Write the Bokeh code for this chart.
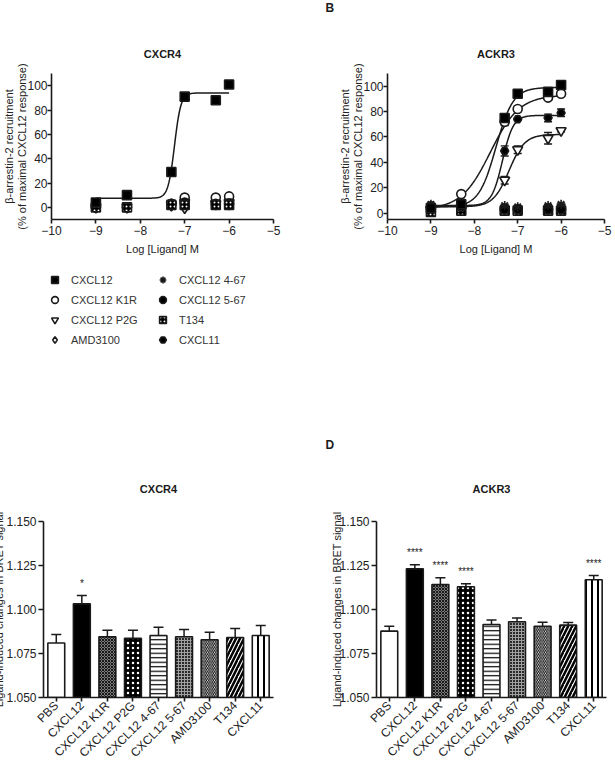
import numpy as np
from math import pi
from bokeh.plotting import figure
from bokeh.models import (ColumnDataSource, FixedTicker, Legend, LegendItem, Whisker,
                          TeeHead, Title, FactorRange, Range1d, PrintfTickFormatter)
from bokeh.layouts import row, column
from bokeh.embed import file_html
from bokeh.resources import INLINE
from bokeh.core.properties import value

FONT = "Liberation Sans"
INK = "#1a1a1a"
TXT = "#222222"

# ---------------- concentration-response data ----------------
log_conc = [-9.0, -8.3, -7.3, -7.0, -6.3, -6.0]

ligands = ["CXCL12", "CXCL12 K1R", "CXCL12 P2G", "AMD3100",
           "CXCL12 4-67", "CXCL12 5-67", "T134", "CXCL11"]

# CXCR4, beta-arrestin-2 recruitment (% of maximal CXCL12 response)
cxcr4_cxcl12 = [4, 10, 29, 91, 88, 101]
cxcr4_k1r = [0, 0, 3, 8, 8, 9]
cxcr4_p2g = [0, 0, 2, 4, 3, 4]
cxcr4_amd3100 = [0, 0, 1, -1, 2, 2]
cxcr4_cxcl12_467 = [0, 0, 3, 3, 3, 3]
cxcr4_cxcl12_567 = [0, 0, 3, 4, 3, 3]
cxcr4_t134 = [0, 0, 2, 2, 2, 2]
cxcr4_cxcl11 = [0, 0, 3, 3, 3, 4]

# ACKR3, beta-arrestin-2 recruitment (% of maximal CXCL12 response) with SEM
ackr3_cxcl12 = [4, 7, 75, 94, 95.5, 101]
ackr3_cxcl12_sem = [1, 2, 3, 2, 2, 1]
ackr3_k1r = [5, 15, 72, 82, 91, 94]
ackr3_k1r_sem = [1, 1, 3, 2, 2, 2]
ackr3_p2g = [3, 5, 26, 50, 59, 65]
ackr3_p2g_sem = [1, 1, 3, 3, 4.5, 1]
ackr3_amd3100 = [2, 3, 2, 3, 3, 3]
ackr3_amd3100_sem = [1, 1, 1, 1, 1, 1]
ackr3_cxcl12_467 = [7, 9, 6, 5, 6, 7]
ackr3_cxcl12_467_sem = [1, 1, 1, 1, 1, 1]
ackr3_cxcl12_567 = [4, 5, 3, 3, 3, 3]
ackr3_cxcl12_567_sem = [1, 1, 1, 1, 1, 1]
ackr3_t134 = [1, 2, 2, 2, 2, 2]
ackr3_t134_sem = [1, 1, 1, 1, 1, 1]
ackr3_cxcl11 = [6, 5, 49, 74, 75, 79]
ackr3_cxcl11_sem = [1, 1, 4, 1, 3, 3]

# four-parameter logistic fits: bottom, top, logEC50, Hill slope
cxcr4_fits = {"CXCL12": [7.5, 94.0, -7.23, 6.0]}
ackr3_fits = {"CXCL12": [5.0, 99.0, -7.50, 2.2],
              "CXCL12 K1R": [3.0, 93.0, -7.63, 1.3],
              "CXCL11": [6.0, 77.0, -7.35, 3.5],
              "CXCL12 P2G": [5.0, 62.0, -7.20, 2.4]}

# ---------------- BRET bar data ----------------
bar_labels = ["PBS", "CXCL12", "CXCL12 K1R", "CXCL12 P2G", "CXCL12 4-67",
              "CXCL12 5-67", "AMD3100", "T134", "CXCL11"]
cxcr4_bret = [1.0810, 1.1032, 1.0845, 1.0837, 1.0852, 1.0845, 1.0828, 1.0841, 1.0852]
cxcr4_bret_sem = [0.0048, 0.0048, 0.0037, 0.0045, 0.0047, 0.0041, 0.0043, 0.0051, 0.0057]
cxcr4_sig = ["", "*", "", "", "", "", "", "", ""]
ackr3_bret = [1.0877, 1.1231, 1.1142, 1.1129, 1.0915, 1.0930, 1.0905, 1.0911, 1.1169]
ackr3_bret_sem = [0.0028, 0.0023, 0.0038, 0.0017, 0.0026, 0.0021, 0.0023, 0.0015, 0.0024]
ackr3_sig = ["", "****", "****", "****", "", "", "", "", "****"]

# bar fill styles
bar_fill = ["white", "black", "#7a7a7a", "black", "white", "#2a2a2a", "white", "white", "white"]
bar_hatch = [" ", " ", "diagonal_cross", "dot", "horizontal_line", "cross",
             "left_diagonal_line", "right_diagonal_line", "vertical_line"]
bar_hatch_color = ["black", "black", "black", "white", "black", "#a0a0a0", "black", "black", "black"]
bar_hatch_scale = [8, 8, 3, 5, 4.5, 3, 3.5, 8, 6]
bar_hatch_weight = [1, 1, 0.8, 2.5, 1.2, 1, 1, 2.5, 2]

# marker style per ligand
marker_style = {
    "CXCL12": dict(marker="square", fill_color="black", size=9),
    "CXCL12 K1R": dict(marker="circle", fill_color="white", size=9),
    "CXCL12 P2G": dict(marker="inverted_triangle", fill_color="white", size=10),
    "AMD3100": dict(marker="diamond", fill_color="white", size=10),
    "CXCL12 4-67": dict(marker="asterisk", fill_color="black", size=9),
    "CXCL12 5-67": dict(marker="circle", fill_color="black", size=9),
    "T134": dict(marker="square", fill_color="black", size=9,
                 hatch_pattern="dot", hatch_color="white", hatch_scale=4),
    "CXCL11": dict(marker="hex", fill_color="black", size=8),
}


def four_pl(x, bottom, top, logec50, hill):
    return bottom + (top - bottom) / (1.0 + 10.0 ** ((logec50 - x) * hill))


def clean(p):
    p.outline_line_color = None
    p.background_fill_color = "white"
    p.border_fill_color = "white"
    # each panel keeps its own plot area; no alignment with neighbours
    p.frame_align = False


def style_title(t, size="11px", align="center"):
    t.text_font = FONT
    t.text_font_size = size
    t.text_font_style = "bold"
    t.text_color = INK
    t.align = align


def style_axes(p, tick_size="12px"):
    clean(p)
    p.xgrid.visible = False
    p.ygrid.visible = False
    style_title(p.title)
    for ax in p.axis:
        ax.axis_line_width = 1.6
        ax.axis_line_color = INK
        ax.major_tick_line_width = 1.6
        ax.major_tick_line_color = INK
        ax.major_tick_out = 4
        ax.major_tick_in = 0
        ax.minor_tick_out = 0
        ax.minor_tick_in = 0
        ax.major_label_text_font = FONT
        ax.major_label_text_font_size = tick_size
        ax.major_label_text_color = TXT
        ax.major_label_standoff = 2
        ax.axis_label_text_font = FONT
        ax.axis_label_text_font_size = "11px"
        ax.axis_label_text_font_style = "normal"
        ax.axis_label_text_color = TXT
        ax.axis_label_standoff = 3


def dose_figure(title, y_start, left, right, top, bottom, width, height):
    p = figure(width=width, height=height, title=title, output_backend="svg",
               toolbar_location=None, x_range=Range1d(-10, -5),
               y_range=Range1d(y_start, 110),
               min_border_left=left, min_border_right=right,
               min_border_top=top, min_border_bottom=bottom)
    style_axes(p)
    p.xaxis.ticker = FixedTicker(ticks=[-10, -9, -8, -7, -6, -5])
    p.yaxis.ticker = FixedTicker(ticks=[0, 20, 40, 60, 80, 100])
    p.xaxis.axis_label = "Log [Ligand] M"
    p.xaxis.axis_label_standoff = 5
    p.yaxis.axis_label = "\u03b2-arrestin-2 recruitment\n(% of maximal CXCL12 response)"
    p.yaxis.axis_label_text_line_height = 1.1
    p.yaxis.major_label_standoff = 0
    p.yaxis.axis_label_standoff = -4
    p.title.standoff = 28
    return p


curve_x = np.linspace(log_conc[0], log_conc[-1], 200)

# ---------------- panel: CXCR4 concentration-response ----------------
pA = dose_figure("CXCR4", -10, 51, 27, 73, 41, 300, 260)
for name, (b, t, ec, h) in cxcr4_fits.items():
    pA.line(curve_x, four_pl(curve_x, b, t, ec, h), line_color=INK, line_width=1.5)

cxcr4_series = {"CXCL12": cxcr4_cxcl12, "CXCL12 K1R": cxcr4_k1r, "CXCL12 P2G": cxcr4_p2g,
                "AMD3100": cxcr4_amd3100, "CXCL12 4-67": cxcr4_cxcl12_467,
                "CXCL12 5-67": cxcr4_cxcl12_567, "T134": cxcr4_t134, "CXCL11": cxcr4_cxcl11}
draw_order_a = ["CXCL12 K1R", "AMD3100", "CXCL12 P2G", "CXCL12 5-67", "CXCL11",
                "CXCL12 4-67", "T134", "CXCL12"]
for name in draw_order_a:
    pA.scatter(log_conc, cxcr4_series[name], line_color=INK, line_width=1.6,
               **marker_style[name])

# ---------------- symbol key shared by both concentration-response panels ----------------
# the key's own plot area shows none of the series (its x range lies outside them)
pKey = figure(width=300, height=120, output_backend="svg", toolbar_location=None,
              x_axis_type=None, y_axis_type=None, x_range=Range1d(0, 1),
              y_range=Range1d(0, 1), min_border=0)
clean(pKey)
key_items = []
for name in ligands:
    r = pKey.scatter(log_conc, cxcr4_series[name], line_color=INK, line_width=1.6,
                     **marker_style[name])
    key_items.append(LegendItem(label=name, renderers=[r]))
pKey.add_layout(Legend(items=key_items, location=(46, 32), orientation="vertical", nrows=4,
                       glyph_width=17, glyph_height=17, label_height=17, label_width=80,
                       label_standoff=8, spacing=3, padding=0, margin=0,
                       border_line_alpha=0, background_fill_alpha=0,
                       label_text_font=FONT, label_text_font_size="11px",
                       label_text_color="#333333"), "center")

# ---------------- panel letter B ----------------
pBletter = figure(width=315, height=20, output_backend="svg", toolbar_location=None,
                  x_axis_type=None, y_axis_type=None, x_range=Range1d(0, 1),
                  y_range=Range1d(0, 1), min_border=0, title="B")
clean(pBletter)
style_title(pBletter.title, size="12px", align="left")
pBletter.title.vertical_align = "top"
pBletter.title.standoff = 0
pBletter.title.offset = 25

# ---------------- panel: ACKR3 concentration-response ----------------
pB = dose_figure("ACKR3", -5, 87, 11, 53, 161, 315, 360)
ackr3_series = {"CXCL12": (ackr3_cxcl12, ackr3_cxcl12_sem),
                "CXCL12 K1R": (ackr3_k1r, ackr3_k1r_sem),
                "CXCL12 P2G": (ackr3_p2g, ackr3_p2g_sem),
                "AMD3100": (ackr3_amd3100, ackr3_amd3100_sem),
                "CXCL12 4-67": (ackr3_cxcl12_467, ackr3_cxcl12_467_sem),
                "CXCL12 5-67": (ackr3_cxcl12_567, ackr3_cxcl12_567_sem),
                "T134": (ackr3_t134, ackr3_t134_sem),
                "CXCL11": (ackr3_cxcl11, ackr3_cxcl11_sem)}
for name, (b, t, ec, h) in ackr3_fits.items():
    pB.line(curve_x, four_pl(curve_x, b, t, ec, h), line_color=INK, line_width=1.5)
draw_order_b = ["AMD3100", "CXCL12 P2G", "T134", "CXCL12 5-67", "CXCL11", "CXCL12 4-67",
                "CXCL12 K1R", "CXCL12"]
for name in draw_order_b:
    vals, sem = ackr3_series[name]
    src = ColumnDataSource(dict(x=log_conc, y=vals,
                                lo=[v - s for v, s in zip(vals, sem)],
                                hi=[v + s for v, s in zip(vals, sem)]))
    pB.add_layout(Whisker(source=src, base="x", lower="lo", upper="hi",
                          line_color=INK, line_width=1.4,
                          lower_head=TeeHead(size=8, line_width=1.4, line_color=INK),
                          upper_head=TeeHead(size=8, line_width=1.4, line_color=INK)))
    pB.scatter("x", "y", source=src, line_color=INK, line_width=1.6, **marker_style[name])


# ---------------- BRET bar panels ----------------
def bar_figure(title, vals, sem, sig, left, right, width, label_standoff):
    p = figure(width=width, height=387, title=title, output_backend="svg",
               toolbar_location=None, x_range=FactorRange(*bar_labels),
               y_range=Range1d(1.05, 1.15),
               min_border_left=left, min_border_right=right,
               min_border_top=141, min_border_bottom=69)
    style_axes(p)
    p.title.standoff = 53
    p.yaxis.ticker = FixedTicker(ticks=[1.05, 1.075, 1.1, 1.125, 1.15])
    p.yaxis.formatter = PrintfTickFormatter(format="%.3f")
    p.yaxis.major_tick_out = 5
    p.yaxis.major_label_standoff = 2
    p.xaxis.major_label_orientation = pi / 4
    p.xaxis.major_label_text_font_size = "12px"
    p.yaxis.axis_label = "Ligand-induced changes in BRET signal"
    p.yaxis.axis_label_standoff = label_standoff
    src = ColumnDataSource(dict(
        label=bar_labels, top=vals,
        hi=[v + s for v, s in zip(vals, sem)],
        fill=bar_fill, hatch=bar_hatch, hcol=bar_hatch_color,
        hscale=bar_hatch_scale, hweight=bar_hatch_weight, sig=sig))
    p.add_layout(Whisker(source=src, base="label", lower="top", upper="hi",
                         line_color=INK, line_width=1.5, lower_head=None,
                         upper_head=TeeHead(size=10, line_width=1.5, line_color=INK)))
    p.vbar(x="label", top="top", bottom=1.05, width=0.66, source=src,
           fill_color="fill", line_color=INK, line_width=1.6,
           hatch_pattern="hatch", hatch_color="hcol", hatch_scale="hscale",
           hatch_weight="hweight")
    p.text(x="label", y="hi", text="sig", source=src, text_font=value(FONT),
           text_font_size="10px", text_align="center", text_baseline="alphabetic",
           y_offset=-12, text_color=INK)
    return p


# the left edge of this panel runs past the page, so its axis label is cut
pC = bar_figure("CXCR4", cxcr4_bret, cxcr4_bret_sem, cxcr4_sig, 52, 27, 310, -2)
pC.margin = (0, 0, 0, -10)

# panel D: letter as the outer title, receptor name as the inner one
pD = bar_figure("D", ackr3_bret, ackr3_bret_sem, ackr3_sig, 76, 9, 315, -7)
style_title(pD.title, size="12px", align="left")
pD.title.offset = -51
pD.title.standoff = 5
inner = Title(text="ACKR3", standoff=53)
style_title(inner)
pD.add_layout(inner, "above")

layout = column(row(column(pA, pKey), column(pBletter, pB)), row(pC, pD))
open("out.html", "w").write(file_html(layout, INLINE))
